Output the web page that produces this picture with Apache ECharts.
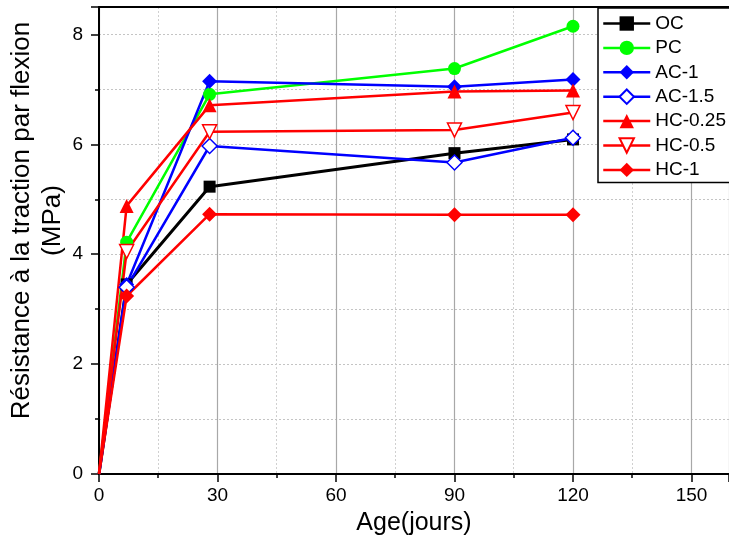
<!DOCTYPE html>
<html>
<head>
<meta charset="utf-8">
<script src="https://cdn.jsdelivr.net/npm/echarts@6/dist/echarts.min.js"></script>
<style>
  html, body { margin: 0; padding: 0; background: #fff; }
  #chart { width: 729px; height: 539px; }
</style>
</head>
<body>
<div id="chart"></div>
<script>
// Curing ages (days)
const ages = [0, 7, 28, 90, 120];

// Flexural tensile strength (MPa) per mix
const OC     = [0, 3.45, 5.23, 5.84, 6.09];
const PC     = [0, 4.22, 6.91, 7.38, 8.15];
const AC1    = [0, 3.45, 7.15, 7.05, 7.18];
const AC15   = [0, 3.40, 5.97, 5.67, 6.12];
const HC025  = [0, 4.88, 6.71, 6.96, 6.98];
const HC05   = [0, 4.05, 6.23, 6.26, 6.58];
const HC1    = [0, 3.24, 4.73, 4.72, 4.72];

const xTicks = [0, 30, 60, 90, 120, 150];
const yTicks = [0, 2, 4, 6, 8];

const FONT = '"Liberation Sans", Arial, sans-serif';

// Points sitting on the axis corner are clipped by the frame, so only the
// line vertex is kept there.
function pairs(vals) {
  return ages.map((a, i) => {
    const item = { value: [a, vals[i]] };
    if (a === 0) item.symbol = 'none';
    return item;
  });
}

function line(name, vals, color, symbol, size, opts) {
  opts = opts || {};
  const hollow = !!opts.hollow;
  return {
    name: name,
    type: 'line',
    data: pairs(vals),
    symbol: symbol,
    symbolSize: size,
    symbolRotate: opts.rotate || 0,
    showAllSymbol: true,
    clip: true,
    lineStyle: { color: color, width: opts.width || 2.5 },
    itemStyle: hollow
      ? { color: '#ffffff', borderColor: color, borderWidth: 1.5 }
      : { color: color, borderColor: color, borderWidth: 0 },
    emphasis: { disabled: true },
    animation: false
  };
}

const chart = echarts.init(document.getElementById('chart'), null, { renderer: 'canvas' });

chart.setOption({
  backgroundColor: '#ffffff',
  animation: false,
  grid: { left: 99, top: 7, right: 0, bottom: 65, containLabel: false, outerBoundsMode: 'none' },
  legend: {
    orient: 'vertical',
    left: 598,
    top: 8,
    padding: [6, 12, 3, 4],
    itemWidth: 47,
    itemHeight: 18,
    itemGap: 5.4,
    backgroundColor: '#ffffff',
    borderColor: '#000000',
    borderWidth: 1.5,
    lineStyle: { width: 2.5 },
    textStyle: { fontFamily: FONT, fontSize: 19, color: '#000' },
    data: ['OC', 'PC', 'AC-1', 'AC-1.5', 'HC-0.25', 'HC-0.5', 'HC-1']
  },
  xAxis: [
    {
      type: 'value',
      min: xTicks[0],
      max: 159.5,
      interval: xTicks[1] - xTicks[0],
      name: 'Age(jours)',
      nameLocation: 'middle',
      nameGap: 37,
      nameMoveOverlap: false,
      nameTextStyle: { fontFamily: FONT, fontSize: 25, color: '#000' },
      axisLine: { show: true, onZero: false, lineStyle: { color: '#000', width: 2 } },
      axisTick: { show: true, inside: false, length: 8, lineStyle: { color: '#000', width: 1.5 } },
      minorTick: { show: true, splitNumber: 2, length: 4, lineStyle: { color: '#000', width: 1.5 } },
      axisLabel: {
        fontFamily: FONT, fontSize: 19, color: '#000', margin: 12,
        showMaxLabel: false,
        formatter: v => (xTicks.indexOf(v) >= 0 ? String(v) : '')
      },
      splitLine: { show: true, lineStyle: { color: '#a8a8a8', width: 1.2, type: 'solid' } },
      minorSplitLine: { show: true, lineStyle: { color: '#d0d0d0', width: 1, type: [2, 2] } }
    },
    {
      type: 'value',
      position: 'top',
      min: xTicks[0],
      max: 159.5,
      axisLine: { show: true, onZero: false, lineStyle: { color: '#000', width: 2 } },
      axisTick: { show: false },
      axisLabel: { show: false },
      splitLine: { show: false }
    }
  ],
  yAxis: {
    type: 'value',
    min: yTicks[0],
    max: 8.5,
    interval: yTicks[1] - yTicks[0],
    name: 'Résistance à la traction par flexion\n(MPa)',
    nameLocation: 'middle',
    nameGap: 31,
    nameMoveOverlap: false,
    nameRotate: 90,
    nameTextStyle: {
      fontFamily: FONT, fontSize: 26, color: '#000', lineHeight: 31, align: 'center',
      padding: [0, 0, 0, 40]
    },
    axisLine: { show: true, onZero: false, lineStyle: { color: '#000', width: 2 } },
    axisTick: { show: true, inside: false, length: 8, lineStyle: { color: '#000', width: 1.5 } },
    minorTick: { show: true, splitNumber: 2, length: 4, lineStyle: { color: '#000', width: 1.5 } },
    axisLabel: {
      fontFamily: FONT, fontSize: 19, color: '#000', margin: 16,
      showMaxLabel: false,
      formatter: v => (yTicks.indexOf(v) >= 0 ? String(v) : '')
    },
    splitLine: { show: true, lineStyle: { color: '#c4c4c4', width: 1, type: [2, 2] } },
    minorSplitLine: { show: true, lineStyle: { color: '#c4c4c4', width: 1, type: [2, 2] } }
  },
  series: [
    line('OC', OC, '#000000', 'rect', 12, { width: 3 }),
    line('PC', PC, '#00ff00', 'circle', 13),
    line('AC-1', AC1, '#0000ff', 'diamond', 15),
    line('AC-1.5', AC15, '#0000ff', 'diamond', 15, { hollow: true }),
    line('HC-0.25', HC025, '#ff0000', 'triangle', 14),
    line('HC-0.5', HC05, '#ff0000', 'triangle', 14, { hollow: true, rotate: 180 }),
    line('HC-1', HC1, '#ff0000', 'diamond', 15)
  ]
});
</script>
</body>
</html>
